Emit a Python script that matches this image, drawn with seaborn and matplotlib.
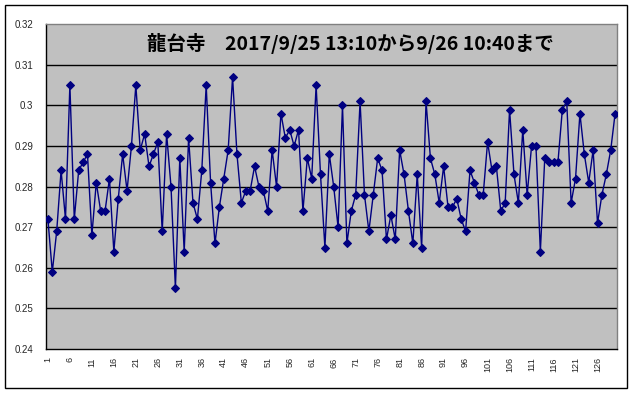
import numpy as np
import pandas as pd
import matplotlib
matplotlib.use("Agg")
import matplotlib.pyplot as plt
import seaborn as sns
from matplotlib.patches import Rectangle

# ---- data ----
title_text = "龍台寺　2017/9/25 13:10から9/26 10:40まで"
values = [
    0.272, 0.259, 0.269, 0.284, 0.272, 0.305, 0.272, 0.284, 0.286, 0.288,
    0.268, 0.281, 0.274, 0.274, 0.282, 0.264, 0.277, 0.288, 0.279, 0.290,
    0.305, 0.289, 0.293, 0.285, 0.288, 0.291, 0.269, 0.293, 0.280, 0.255,
    0.287, 0.264, 0.292, 0.276, 0.272, 0.284, 0.305, 0.281, 0.266, 0.275,
    0.282, 0.289, 0.307, 0.288, 0.276, 0.279, 0.279, 0.285, 0.280, 0.279,
    0.274, 0.289, 0.280, 0.298, 0.292, 0.294, 0.290, 0.294, 0.274, 0.287,
    0.282, 0.305, 0.283, 0.265, 0.288, 0.280, 0.270, 0.300, 0.266, 0.274,
    0.278, 0.301, 0.278, 0.269, 0.278, 0.287, 0.284, 0.267, 0.273, 0.267,
    0.289, 0.283, 0.274, 0.266, 0.283, 0.265, 0.301, 0.287, 0.283, 0.276,
    0.285, 0.275, 0.275, 0.277, 0.272, 0.269, 0.284, 0.281, 0.278, 0.278,
    0.291, 0.284, 0.285, 0.274, 0.276, 0.299, 0.283, 0.276, 0.294, 0.278,
    0.290, 0.290, 0.264, 0.287, 0.286, 0.286, 0.286, 0.299, 0.301, 0.276,
    0.282, 0.298, 0.288, 0.281, 0.289, 0.271, 0.278, 0.283, 0.289, 0.298,
]
categories = list(range(1, len(values) + 1))
x_tick_labels = [str(c) for c in categories if (c - 1) % 5 == 0]
y_ticks = [0.24, 0.25, 0.26, 0.27, 0.28, 0.29, 0.30, 0.31, 0.32]

df = pd.DataFrame({"n": categories, "v": values})

sns.set_style("white")
plt.rcParams["font.family"] = ["Liberation Sans", "DejaVu Sans"]

W, H = 633, 393
fig = plt.figure(figsize=(W / 100, H / 100), dpi=100)
fig.patch.set_facecolor("white")

L, R, T, B = 45.7, 617.3, 24.3, 349.0
ax = fig.add_axes([L / W, (H - B) / H, (R - L) / W, (B - T) / H])
ax.set_facecolor("#C0C0C0")

for yv in y_ticks[1:-1]:
    ax.axhline(yv, color="black", linewidth=1.0, zorder=1)

sns.lineplot(data=df, x="n", y="v", ax=ax, color="#000080", linewidth=1.0,
             marker="D", markersize=3.6, markeredgecolor="#000080",
             markerfacecolor="#000080", zorder=3)

ax.set_xlim(0.5, len(values) + 0.5)
ax.set_ylim(0.24, 0.32)
ax.set_yticks(y_ticks)
ax.set_yticklabels([f"{v:g}" for v in y_ticks], fontsize=7)
ax.set_xticks([c for c in categories if (c - 1) % 5 == 0])
ax.set_xticklabels(x_tick_labels, rotation=90, fontsize=6.5)
ax.set_xticks(np.arange(0.5, len(values) + 1, 1.0), minor=True)
ax.tick_params(axis="x", which="major", length=0, pad=6)
ax.tick_params(axis="x", which="minor", length=2.5, width=0.8, direction="out", color="black")
ax.tick_params(axis="y", which="major", length=3, width=0.8, direction="out", color="black", pad=6)
ax.set_xlabel("")
ax.set_ylabel("")

for s in ["left", "bottom"]:
    ax.spines[s].set_color("black")
    ax.spines[s].set_linewidth(1.0)
for s in ["top", "right"]:
    ax.spines[s].set_color("#808080")
    ax.spines[s].set_linewidth(1.0)

ax.text(0.533, 0.94, title_text, transform=ax.transAxes, ha="center", va="center",
        fontsize=14, fontweight="bold",
        family=["Noto Sans CJK JP", "DejaVu Sans"], color="black", zorder=4)

# outer chart border
fig.patches.append(Rectangle((5 / W, 5 / H), (627 - 5) / W, (388 - 5) / H,
                             transform=fig.transFigure, fill=False,
                             edgecolor="black", linewidth=1.0))

fig.savefig("out.png", dpi=100, facecolor="white")
